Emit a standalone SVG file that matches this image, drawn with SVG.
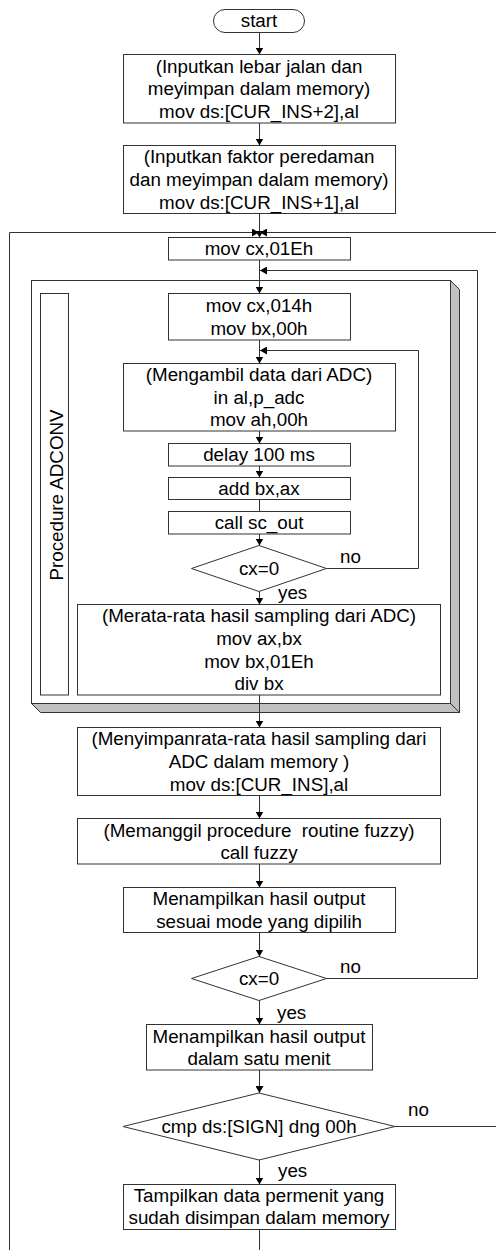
<svg xmlns="http://www.w3.org/2000/svg" width="496" height="1250" viewBox="0 0 496 1250">
<style>
  .box{fill:#fff;stroke:#333;stroke-width:1}
  .t{font-family:"Liberation Sans",Arial,sans-serif;font-size:18.8px;fill:#000;text-anchor:middle}
  .lbl{font-family:"Liberation Sans",Arial,sans-serif;font-size:18.8px;fill:#000}
  .c{fill:none;stroke:#333;stroke-width:1}
  .shade{fill:#c0c0c0;stroke:#333;stroke-width:1}
</style>
<defs>
  <marker id="ah" markerUnits="userSpaceOnUse" markerWidth="8" markerHeight="8" refX="7" refY="4" orient="auto">
    <path d="M0,0 L7,4 L0,8 z" fill="#000"/>
  </marker>
</defs>
<rect width="496" height="1250" fill="#fff"/>

<g id="proc-adconv">
  <polygon class="shade" points="450.5,280.5 459.5,289.5 459.5,712.5 450.5,703.5"/>
  <polygon class="shade" points="31.5,703.5 450.5,703.5 459.5,712.5 40.5,712.5"/>
  <rect class="box" x="31.5" y="280.5" width="419" height="423"/>
  <rect class="box" x="40.5" y="293.5" width="28" height="401.5"/>
  <text class="t" transform="translate(63,495) rotate(-90)">Procedure ADCONV</text>
</g>

<g id="start">
  <rect class="box" x="213.5" y="9.5" width="91" height="23" rx="11.5"/>
  <text class="t" x="259" y="27">start</text>
</g>
<g id="input-lebar">
  <rect class="box" x="123.5" y="54.5" width="272" height="68.5"/>
  <text class="t" x="259" y="72.5">(Inputkan lebar jalan dan</text>
  <text class="t" x="259" y="95.2">meyimpan dalam memory)</text>
  <text class="t" x="259" y="117.9">mov ds:[CUR_INS+2],al</text>
</g>
<g id="input-faktor">
  <rect class="box" x="123.5" y="145.5" width="272" height="68"/>
  <text class="t" x="259" y="163.3">(Inputkan faktor peredaman</text>
  <text class="t" x="259" y="186">dan meyimpan dalam memory)</text>
  <text class="t" x="259" y="208.6">mov ds:[CUR_INS+1],al</text>
</g>
<g id="mov-cx-01e">
  <rect class="box" x="168.5" y="237.5" width="182" height="22.5"/>
  <text class="t" x="259" y="255.3">mov cx,01Eh</text>
</g>
<g id="mov-cx-014">
  <rect class="box" x="168.5" y="293.5" width="182" height="46.5"/>
  <text class="t" x="259" y="312">mov cx,014h</text>
  <text class="t" x="259" y="334.7">mov bx,00h</text>
</g>
<g id="ambil-adc">
  <rect class="box" x="123.5" y="363.5" width="272" height="67.5"/>
  <text class="t" x="259" y="381.2">(Mengambil data dari ADC)</text>
  <text class="t" x="259" y="403.7">in al,p_adc</text>
  <text class="t" x="259" y="426.2">mov ah,00h</text>
</g>
<g id="delay">
  <rect class="box" x="168.5" y="443.5" width="182" height="22.5"/>
  <text class="t" x="259" y="461.2">delay 100 ms</text>
</g>
<g id="add">
  <rect class="box" x="168.5" y="477.5" width="182" height="22"/>
  <text class="t" x="259" y="495">add bx,ax</text>
</g>
<g id="call-sc-out">
  <rect class="box" x="168.5" y="511.5" width="182" height="22.5"/>
  <text class="t" x="259" y="529.3">call sc_out</text>
</g>
<g id="dec-cx1">
  <polygon class="box" points="259,545.5 326.5,568.5 259,591.5 191.5,568.5"/>
  <text class="t" x="259" y="575">cx=0</text>
</g>
<g id="merata">
  <rect class="box" x="77.5" y="604.5" width="363" height="90.5"/>
  <text class="t" x="259" y="622.4">(Merata-rata hasil sampling dari ADC)</text>
  <text class="t" x="259" y="645">mov ax,bx</text>
  <text class="t" x="259" y="667.6">mov bx,01Eh</text>
  <text class="t" x="259" y="690.2">div bx</text>
</g>
<g id="menyimpan">
  <rect class="box" x="77.5" y="727.5" width="363" height="68"/>
  <text class="t" x="259" y="745.3">(Menyimpanrata-rata hasil sampling dari</text>
  <text class="t" x="259" y="768">ADC dalam memory )</text>
  <text class="t" x="259" y="790.6">mov ds:[CUR_INS],al</text>
</g>
<g id="memanggil">
  <rect class="box" x="77.5" y="818.5" width="363" height="45.5"/>
  <text class="t" x="259" y="836.6" xml:space="preserve">(Memanggil procedure  routine fuzzy)</text>
  <text class="t" x="259" y="859.2">call fuzzy</text>
</g>
<g id="tampil-mode">
  <rect class="box" x="123.5" y="887.5" width="272" height="45"/>
  <text class="t" x="259" y="905">Menampilkan hasil output</text>
  <text class="t" x="259" y="927.6">sesuai mode yang dipilih</text>
</g>
<g id="dec-cx2">
  <polygon class="box" points="259,956.5 326.5,978.5 259,1000.5 191.5,978.5"/>
  <text class="t" x="259" y="985">cx=0</text>
</g>
<g id="tampil-menit">
  <rect class="box" x="146.5" y="1024.5" width="226" height="45.5"/>
  <text class="t" x="259" y="1042.5">Menampilkan hasil output</text>
  <text class="t" x="259" y="1065.2">dalam satu menit</text>
</g>
<g id="dec-sign">
  <polygon class="box" points="259,1093 395,1126.5 259,1160 123,1126.5"/>
  <text class="t" x="259" y="1133">cmp ds:[SIGN] dng 00h</text>
</g>
<g id="tampil-permenit">
  <rect class="box" x="123.5" y="1184.5" width="272" height="45"/>
  <text class="t" x="259" y="1201.5">Tampilkan data permenit yang</text>
  <text class="t" x="259" y="1224">sudah disimpan dalam memory</text>
</g>

<g id="connectors">
  <line class="c" x1="259.5" y1="32" x2="259.5" y2="54.5" marker-end="url(#ah)"/>
  <line class="c" x1="259.5" y1="123" x2="259.5" y2="145.5" marker-end="url(#ah)"/>
  <line class="c" x1="259.5" y1="213.5" x2="259.5" y2="237.5" marker-end="url(#ah)"/>
  <polyline class="c" points="9.5,1250 9.5,232.5 259,232.5" marker-end="url(#ah)"/>
  <line class="c" x1="496" y1="232.5" x2="260" y2="232.5" marker-end="url(#ah)"/>
  <line class="c" x1="259.5" y1="260" x2="259.5" y2="293.5" marker-end="url(#ah)"/>
  <polyline class="c" points="326.5,978.5 477.5,978.5 477.5,270.5 260,270.5" marker-end="url(#ah)"/>
  <line class="c" x1="259.5" y1="340" x2="259.5" y2="363.5" marker-end="url(#ah)"/>
  <polyline class="c" points="326.5,568.5 418.5,568.5 418.5,350.5 260,350.5" marker-end="url(#ah)"/>
  <line class="c" x1="259.5" y1="431" x2="259.5" y2="443.5" marker-end="url(#ah)"/>
  <line class="c" x1="259.5" y1="466" x2="259.5" y2="477.5" marker-end="url(#ah)"/>
  <line class="c" x1="259.5" y1="499.5" x2="259.5" y2="511.5"/>
  <line class="c" x1="259.5" y1="534" x2="259.5" y2="545.5" marker-end="url(#ah)"/>
  <line class="c" x1="259.5" y1="591.5" x2="259.5" y2="604.5" marker-end="url(#ah)"/>
  <line class="c" x1="259.5" y1="695" x2="259.5" y2="727.5" marker-end="url(#ah)"/>
  <line class="c" x1="259.5" y1="795.5" x2="259.5" y2="818.5" marker-end="url(#ah)"/>
  <line class="c" x1="259.5" y1="864" x2="259.5" y2="887.5" marker-end="url(#ah)"/>
  <line class="c" x1="259.5" y1="932.5" x2="259.5" y2="956.5" marker-end="url(#ah)"/>
  <line class="c" x1="259.5" y1="1000.5" x2="259.5" y2="1024.5" marker-end="url(#ah)"/>
  <line class="c" x1="259.5" y1="1070" x2="259.5" y2="1093" marker-end="url(#ah)"/>
  <line class="c" x1="395" y1="1126.5" x2="496" y2="1126.5"/>
  <line class="c" x1="259.5" y1="1160" x2="259.5" y2="1184.5" marker-end="url(#ah)"/>
  <line class="c" x1="259.5" y1="1229.5" x2="259.5" y2="1250"/>
  <text class="lbl" x="340" y="563">no</text>
  <text class="lbl" x="278" y="598.5">yes</text>
  <text class="lbl" x="340" y="972.5">no</text>
  <text class="lbl" x="277" y="1018.5">yes</text>
  <text class="lbl" x="408" y="1116">no</text>
  <text class="lbl" x="278" y="1177">yes</text>
</g>
</svg>
